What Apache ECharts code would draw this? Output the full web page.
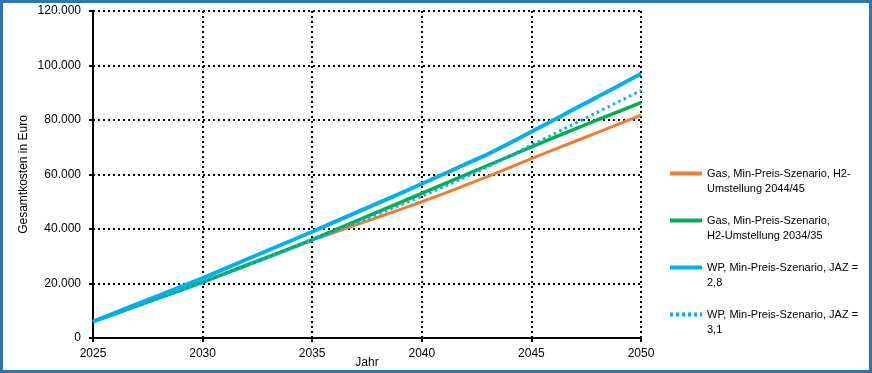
<!DOCTYPE html>
<html><head><meta charset="utf-8">
<script src="https://cdn.jsdelivr.net/npm/echarts@6/dist/echarts.min.js"></script>
<style>html,body{margin:0;padding:0;background:#fff}#c{width:872px;height:373px}</style>
</head><body><div id="c"></div>
<script>
const years = [2025,2026,2027,2028,2029,2030,2031,2032,2033,2034,2035,2036,2037,2038,2039,2040,2041,2042,2043,2044,2045,2046,2047,2048,2049,2050];
const gas4445 = [6000,8900,11800,14700,17600,20500,23500,26600,29700,32800,35900,38700,41500,44300,47100,50000,53000,56100,59200,62500,65800,69000,72200,75400,78600,81800];
const gas3435 = [6000,8900,11800,14700,17600,20500,23600,26700,29800,32900,36100,39500,42900,46300,49700,53100,56500,59900,63300,66700,70100,73400,76700,80000,83200,86400];
const wp28 = [6000,9200,12400,15600,18800,22000,25400,28800,32200,35600,39000,42500,46000,49500,53000,56600,60200,63800,67400,71500,75700,79900,84200,88400,92700,97000];
const wp31 = [6000,8850,11700,14550,17400,20300,23400,26500,29600,32700,35900,39100,42300,45500,48700,52000,55500,59100,62800,66700,70800,74800,78800,82800,86800,90800];
const seriesNames = ['Gas, Min-Preis-Szenario, H2-Umstellung 2044/45','Gas, Min-Preis-Szenario, H2-Umstellung 2034/35','WP, Min-Preis-Szenario, JAZ = 2,8','WP, Min-Preis-Szenario, JAZ = 3,1'];
const legendLines = [['Gas, Min-Preis-Szenario, H2-','Umstellung 2044/45'],['Gas, Min-Preis-Szenario,','H2-Umstellung 2034/35'],['WP, Min-Preis-Szenario, JAZ =','2,8'],['WP, Min-Preis-Szenario, JAZ =','3,1']];
const FONT = 'Liberation Sans';
function pairs(arr){return years.map((y,i)=>[y,arr[i]]);}
function fmtDE(v){return String(v).replace(/\B(?=(\d{3})+(?!\d))/g,'.');}
const solidIcon = 'path://M0,0H32V4H0Z';
const dotIcon = 'path://M0,0H3V4H0Z M6,0H9V4H6Z M12,0H15V4H12Z M18,0H21V4H18Z M24,0H27V4H24Z M30,0H32V4H30Z';
const chart = echarts.init(document.getElementById('c'));
const dotted = {color:'#000',width:2,type:[2,3]};
chart.setOption({
  animation:false,
  textStyle:{fontFamily:FONT},
  grid:{left:93,right:231,top:11,bottom:35,outerBoundsMode:'none',containLabel:false},
  graphic:[{type:'rect',shape:{x:1.5,y:1.5,width:869,height:370},style:{fill:null,stroke:'#2E75B6',lineWidth:3},silent:true}],
  legend:{
    orient:'vertical',left:665,top:146,itemGap:2,itemWidth:32,itemHeight:4,
    data:[
      {name:seriesNames[0],icon:solidIcon},
      {name:seriesNames[1],icon:solidIcon},
      {name:seriesNames[2],icon:solidIcon},
      {name:seriesNames[3],icon:dotIcon}
    ],
    formatter:function(n){const l=legendLines[seriesNames.indexOf(n)];return '\n'+l[0]+'\n'+l[1];},
    textStyle:{color:'#000',fontSize:11,lineHeight:15,fontFamily:FONT}
  },
  xAxis:{type:'value',min:2025,max:2050,interval:5,name:'Jahr',nameLocation:'middle',nameGap:19,nameMoveOverlap:false,
    nameTextStyle:{color:'#000',fontSize:12,fontFamily:FONT},
    axisLine:{lineStyle:{color:'#000',width:2}},axisTick:{show:true,length:4,lineStyle:{color:'#000',width:2}},
    axisLabel:{color:'#000',fontSize:12,margin:10,formatter:v=>String(v)},
    splitLine:{show:true,lineStyle:dotted}},
  yAxis:{type:'value',min:0,max:120000,interval:20000,name:'Gesamtkosten in Euro',nameLocation:'middle',nameGap:63,nameMoveOverlap:false,
    nameTextStyle:{color:'#000',fontSize:12,fontFamily:FONT},
    axisLine:{show:true,lineStyle:{color:'#000',width:2}},axisTick:{show:true,length:4,lineStyle:{color:'#000',width:2}},
    axisLabel:{color:'#000',fontSize:12,margin:12,formatter:fmtDE},
    splitLine:{show:true,lineStyle:dotted}},
  series:[
    {name:seriesNames[0],type:'line',data:pairs(gas4445),showSymbol:false,symbol:'none',lineStyle:{color:'#ED7D31',width:3},itemStyle:{color:'#ED7D31'}},
    {name:seriesNames[1],type:'line',data:pairs(gas3435),showSymbol:false,symbol:'none',lineStyle:{color:'#00B050',width:3.5},itemStyle:{color:'#00B050'}},
    {name:seriesNames[2],type:'line',data:pairs(wp28),showSymbol:false,symbol:'none',lineStyle:{color:'#00B0F0',width:4},itemStyle:{color:'#00B0F0'}},
    {name:seriesNames[3],type:'line',data:pairs(wp31),showSymbol:false,symbol:'none',lineStyle:{color:'#00B0F0',width:3,type:[2.5,3.5]},itemStyle:{color:'#00B0F0'}}
  ]
});
</script></body></html>
